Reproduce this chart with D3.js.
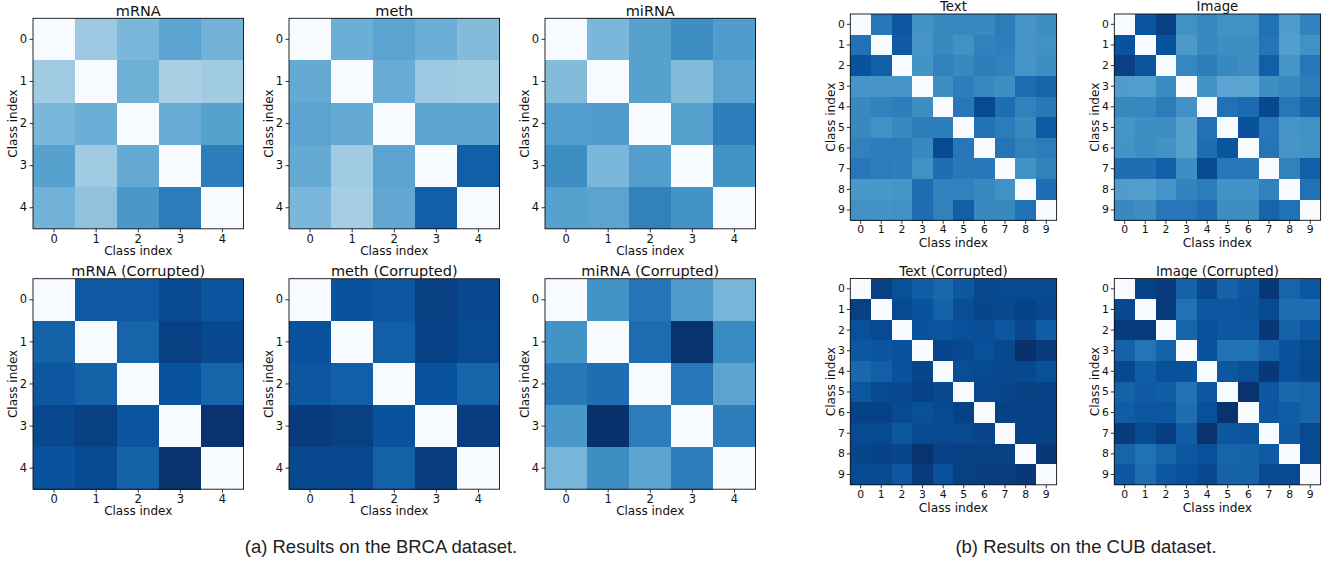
<!DOCTYPE html>
<html>
<head>
<meta charset="utf-8">
<script src="https://cdn.jsdelivr.net/npm/d3@7"></script>
<style>
  body { margin: 0; background: #fff; }
  svg { display: block; }
</style>
</head>
<body>
<div id="chart"></div>
<script>
// class labels
const brcaClasses = [0, 1, 2, 3, 4];
const cubClasses = [0, 1, 2, 3, 4, 5, 6, 7, 8, 9];

// matplotlib "Blues" stops
const bluesStops = ['#f7fbff', '#deebf7', '#c6dbef', '#9ecae1', '#6baed6', '#4292c6', '#2171b5', '#08519c', '#08306b'];

// BRCA distance matrices (position in colormap, 0 = white)
const mrna = [
  [0.00, 0.38, 0.46, 0.55, 0.48],
  [0.37, 0.00, 0.49, 0.34, 0.37],
  [0.46, 0.50, 0.00, 0.51, 0.56],
  [0.56, 0.37, 0.52, 0.00, 0.70],
  [0.48, 0.41, 0.60, 0.71, 0.00]
];
const meth = [
  [0.00, 0.50, 0.55, 0.50, 0.44],
  [0.52, 0.00, 0.51, 0.38, 0.37],
  [0.55, 0.52, 0.00, 0.55, 0.54],
  [0.52, 0.37, 0.55, 0.00, 0.82],
  [0.46, 0.35, 0.53, 0.82, 0.00]
];
const mirna = [
  [0.00, 0.46, 0.56, 0.64, 0.58],
  [0.44, 0.00, 0.56, 0.44, 0.55],
  [0.57, 0.58, 0.00, 0.56, 0.70],
  [0.64, 0.46, 0.57, 0.00, 0.62],
  [0.56, 0.55, 0.69, 0.62, 0.00]
];
const mrnaCorrupted = [
  [0.00, 0.84, 0.84, 0.90, 0.86],
  [0.81, 0.00, 0.80, 0.94, 0.91],
  [0.85, 0.81, 0.00, 0.87, 0.80],
  [0.91, 0.94, 0.86, 0.00, 0.99],
  [0.87, 0.90, 0.81, 0.99, 0.00]
];
const methCorrupted = [
  [0.00, 0.87, 0.85, 0.94, 0.91],
  [0.87, 0.00, 0.82, 0.93, 0.90],
  [0.85, 0.82, 0.00, 0.87, 0.80],
  [0.96, 0.94, 0.87, 0.00, 0.95],
  [0.91, 0.91, 0.81, 0.95, 0.00]
];
const mirnaCorrupted = [
  [0.00, 0.62, 0.74, 0.58, 0.47],
  [0.62, 0.00, 0.77, 0.99, 0.65],
  [0.72, 0.76, 0.00, 0.73, 0.55],
  [0.60, 1.00, 0.71, 0.00, 0.70],
  [0.47, 0.64, 0.54, 0.70, 0.00]
];

// CUB distance matrices
const text = [
  [0.00, 0.73, 0.85, 0.62, 0.66, 0.66, 0.66, 0.71, 0.61, 0.64],
  [0.75, 0.00, 0.84, 0.61, 0.66, 0.63, 0.69, 0.70, 0.61, 0.63],
  [0.87, 0.82, 0.00, 0.62, 0.69, 0.66, 0.70, 0.69, 0.61, 0.64],
  [0.61, 0.61, 0.61, 0.00, 0.64, 0.70, 0.66, 0.64, 0.77, 0.80],
  [0.66, 0.69, 0.70, 0.64, 0.00, 0.73, 0.90, 0.76, 0.69, 0.72],
  [0.66, 0.63, 0.66, 0.70, 0.70, 0.00, 0.75, 0.71, 0.66, 0.84],
  [0.69, 0.71, 0.71, 0.66, 0.90, 0.73, 0.00, 0.74, 0.69, 0.71],
  [0.73, 0.71, 0.70, 0.63, 0.76, 0.72, 0.73, 0.00, 0.63, 0.69],
  [0.60, 0.60, 0.61, 0.76, 0.68, 0.69, 0.66, 0.63, 0.00, 0.76],
  [0.63, 0.62, 0.63, 0.76, 0.69, 0.82, 0.66, 0.66, 0.75, 0.00]
];
const image = [
  [0.00, 0.86, 0.94, 0.63, 0.67, 0.63, 0.63, 0.75, 0.58, 0.68],
  [0.87, 0.00, 0.87, 0.59, 0.66, 0.64, 0.64, 0.74, 0.57, 0.63],
  [0.94, 0.86, 0.00, 0.67, 0.70, 0.66, 0.64, 0.82, 0.61, 0.73],
  [0.58, 0.57, 0.65, 0.00, 0.62, 0.55, 0.55, 0.64, 0.66, 0.71],
  [0.66, 0.67, 0.71, 0.63, 0.00, 0.75, 0.78, 0.91, 0.73, 0.80],
  [0.61, 0.64, 0.64, 0.56, 0.75, 0.00, 0.87, 0.73, 0.61, 0.63],
  [0.62, 0.64, 0.62, 0.56, 0.76, 0.86, 0.00, 0.74, 0.61, 0.62],
  [0.76, 0.76, 0.82, 0.64, 0.90, 0.73, 0.73, 0.00, 0.69, 0.82],
  [0.58, 0.57, 0.61, 0.68, 0.71, 0.62, 0.62, 0.69, 0.00, 0.75],
  [0.66, 0.64, 0.73, 0.73, 0.76, 0.64, 0.64, 0.80, 0.75, 0.00]
];
const textCorrupted = [
  [0.00, 0.94, 0.88, 0.83, 0.79, 0.85, 0.91, 0.90, 0.90, 0.90],
  [0.94, 0.00, 0.90, 0.87, 0.81, 0.89, 0.92, 0.91, 0.93, 0.91],
  [0.88, 0.90, 0.00, 0.87, 0.86, 0.88, 0.89, 0.85, 0.91, 0.83],
  [0.85, 0.86, 0.87, 0.00, 0.92, 0.91, 0.88, 0.91, 1.00, 0.96],
  [0.79, 0.82, 0.87, 0.92, 0.00, 0.89, 0.90, 0.91, 0.91, 0.88],
  [0.85, 0.90, 0.91, 0.93, 0.91, 0.00, 0.91, 0.92, 0.94, 0.93],
  [0.93, 0.93, 0.90, 0.88, 0.90, 0.93, 0.00, 0.93, 0.93, 0.93],
  [0.90, 0.90, 0.85, 0.90, 0.90, 0.90, 0.92, 0.00, 0.93, 0.93],
  [0.92, 0.93, 0.92, 0.99, 0.93, 0.94, 0.94, 0.94, 0.00, 0.97],
  [0.90, 0.90, 0.85, 0.96, 0.88, 0.94, 0.95, 0.95, 0.97, 0.00]
];
const imageCorrupted = [
  [0.00, 0.93, 0.96, 0.81, 0.91, 0.81, 0.85, 0.97, 0.80, 0.85],
  [0.91, 0.00, 0.96, 0.75, 0.85, 0.85, 0.86, 0.90, 0.76, 0.76],
  [0.96, 0.96, 0.00, 0.80, 0.88, 0.85, 0.85, 0.97, 0.81, 0.85],
  [0.81, 0.74, 0.81, 0.00, 0.87, 0.75, 0.75, 0.81, 0.87, 0.90],
  [0.91, 0.83, 0.88, 0.87, 0.00, 0.85, 0.88, 0.97, 0.88, 0.91],
  [0.81, 0.84, 0.83, 0.75, 0.85, 0.00, 0.99, 0.85, 0.79, 0.80],
  [0.83, 0.85, 0.85, 0.76, 0.88, 0.99, 0.00, 0.85, 0.83, 0.80],
  [0.96, 0.90, 0.95, 0.83, 0.99, 0.85, 0.86, 0.00, 0.84, 0.90],
  [0.80, 0.75, 0.80, 0.85, 0.88, 0.80, 0.81, 0.84, 0.00, 0.90],
  [0.85, 0.77, 0.85, 0.88, 0.91, 0.81, 0.81, 0.90, 0.90, 0.00]
];

const captions = ['(a) Results on the BRCA dataset.', '(b) Results on the CUB dataset.'];

const width = 1330, height = 562;
const font = 'DejaVu Sans, sans-serif';

const color = d3.scaleLinear()
  .domain(d3.range(bluesStops.length).map(i => i / (bluesStops.length - 1)))
  .range(bluesStops)
  .clamp(true);

// panel layout (pixels)
const brcaStyle = { size: 210.5, titleSize: 14.5, tickSize: 11.5, tickPad: 2.5, labelSize: 12, xlabDy: 25.8, ylabDx: 16.3 };
const cubStyle = { size: 206.3, titleSize: 13.3, tickSize: 10.8, tickPad: 2, labelSize: 12.2, xlabDy: 26.8, ylabDx: 15.2 };
const panels = [
  { title: 'mRNA', matrix: mrna, classes: brcaClasses, x: 33, y: 18.3, ...brcaStyle },
  { title: 'meth', matrix: meth, classes: brcaClasses, x: 289, y: 18.3, ...brcaStyle },
  { title: 'miRNA', matrix: mirna, classes: brcaClasses, x: 545, y: 18.3, ...brcaStyle },
  { title: 'mRNA (Corrupted)', matrix: mrnaCorrupted, classes: brcaClasses, x: 33, y: 278.7, ...brcaStyle },
  { title: 'meth (Corrupted)', matrix: methCorrupted, classes: brcaClasses, x: 289, y: 278.7, ...brcaStyle },
  { title: 'miRNA (Corrupted)', matrix: mirnaCorrupted, classes: brcaClasses, x: 545, y: 278.7, ...brcaStyle },
  { title: 'Text', matrix: text, classes: cubClasses, x: 850.3, y: 14, ...cubStyle },
  { title: 'Image', matrix: image, classes: cubClasses, x: 1114.3, y: 14, ...cubStyle },
  { title: 'Text (Corrupted)', matrix: textCorrupted, classes: cubClasses, x: 850.3, y: 278.5, ...cubStyle },
  { title: 'Image (Corrupted)', matrix: imageCorrupted, classes: cubClasses, x: 1114.3, y: 278.5, ...cubStyle }
];

const svg = d3.select('#chart')
  .append('svg')
  .attr('width', width)
  .attr('height', height)
  .attr('viewBox', `0 0 ${width} ${height}`);

svg.append('rect').attr('width', width).attr('height', height).attr('fill', '#fff');

panels.forEach(p => {
  const g = svg.append('g').attr('transform', `translate(${p.x},${p.y})`);

  const xScale = d3.scaleBand().domain(p.classes).range([0, p.size]);
  const yScale = d3.scaleBand().domain(p.classes).range([0, p.size]);

  // flatten matrix into cells
  const cells = [];
  p.matrix.forEach((row, i) => row.forEach((v, j) => cells.push({ row: p.classes[i], col: p.classes[j], v })));

  g.selectAll('.cell')
    .data(cells)
    .join('rect')
    .attr('class', 'cell')
    .attr('x', d => xScale(d.col))
    .attr('y', d => yScale(d.row))
    .attr('width', xScale.bandwidth() + 0.3)
    .attr('height', yScale.bandwidth() + 0.3)
    .attr('fill', d => color(d.v))
    .attr('shape-rendering', 'crispEdges');

  // axes
  const xAxis = g.append('g')
    .attr('transform', `translate(0,${p.size})`)
    .call(d3.axisBottom(xScale).tickSize(3.5).tickSizeOuter(0).tickPadding(p.tickPad));
  const yAxis = g.append('g')
    .call(d3.axisLeft(yScale).tickSize(3.5).tickSizeOuter(0).tickPadding(p.tickPad));

  [xAxis, yAxis].forEach(ax => {
    ax.select('.domain').remove();
    ax.selectAll('line').attr('stroke', '#000').attr('stroke-width', 0.8);
    ax.selectAll('text')
      .attr('fill', '#111')
      .attr('font-size', p.tickSize + 'px')
      .attr('font-family', font);
  });

  // frame
  g.append('rect')
    .attr('width', p.size)
    .attr('height', p.size)
    .attr('fill', 'none')
    .attr('stroke', '#111')
    .attr('stroke-width', 0.9);

  // title
  g.append('text')
    .attr('x', p.size / 2)
    .attr('y', -2.6)
    .attr('text-anchor', 'middle')
    .attr('font-size', p.titleSize + 'px')
    .attr('font-family', font)
    .attr('fill', '#111')
    .text(p.title);

  // axis labels
  g.append('text')
    .attr('x', p.size / 2)
    .attr('y', p.size + p.xlabDy)
    .attr('text-anchor', 'middle')
    .attr('font-size', p.labelSize + 'px')
    .attr('font-family', font)
    .attr('fill', '#111')
    .text('Class index');

  g.append('text')
    .attr('transform', `translate(${-p.ylabDx},${p.size / 2}) rotate(-90)`)
    .attr('text-anchor', 'middle')
    .attr('font-size', p.labelSize + 'px')
    .attr('font-family', font)
    .attr('fill', '#111')
    .text('Class index');
});

// sub-figure captions
const captionX = [381, 1086];
captions.forEach((c, i) => {
  svg.append('text')
    .attr('x', captionX[i])
    .attr('y', 553)
    .attr('text-anchor', 'middle')
    .attr('font-size', '18.5px')
    .attr('font-family', 'Liberation Sans, Arial, sans-serif')
    .attr('fill', '#222')
    .text(c);
});
</script>
</body>
</html>
